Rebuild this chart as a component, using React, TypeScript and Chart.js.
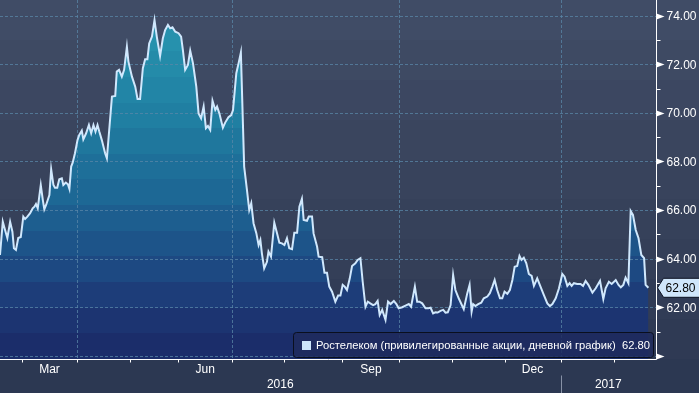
import React, { useEffect, useRef } from "react";
import { Chart, registerables } from "chart.js";
Chart.register(...registerables);

// Trading-session index (from chart start) and close prices
const sessions = [
  0, 1.1, 2.0, 2.9, 4.0, 4.9, 5.5, 6.3, 7.2, 8.2, 9.2, 9.9, 10.8, 11.9, 12.9, 13.6, 14.2, 14.9, 15.5, 16.1,
  16.9, 17.5, 18.2, 19.5, 20.2, 21.1, 21.7, 22.6, 23.4, 24.4, 25.0, 26.0, 26.8, 27.4, 28.1, 28.7, 29.6, 30.6, 31.3, 32.3,
  32.9, 34.0, 35.1, 36.0, 36.9, 37.7, 38.5, 39.2, 40.2, 41.5, 42.2, 44.2, 45.5, 46.1, 47.0, 48.1, 49.0, 50.1, 50.7, 52.1,
  53.4, 54.3, 55.3, 56.4, 57.3, 58.2, 58.9, 60.0, 61.0, 61.9, 63.2, 64.3, 65.2, 66.3, 67.2, 68.1, 69.2, 70.5, 71.5, 72.2,
  73.1, 74.2, 75.1, 76.2, 77.5, 78.4, 79.4, 80.4, 81.3, 82.1, 83.0, 83.9, 85.0, 85.7, 86.6, 88.0, 88.9, 90.2, 91.3, 92.0,
  93.3, 94.2, 95.1, 96.4, 97.5, 98.4, 99.2, 100.1, 101.2, 102.1, 102.8, 103.4, 104.3, 105.4, 106.0, 107.0, 108.3, 109.4, 110.3, 111.3,
  112.3, 113.3, 114.2, 115.3, 116.2, 117.3, 118.2, 119.2, 119.9, 121.2, 121.9, 123.2, 123.8, 125.2, 125.8, 127.2, 128.1, 129.1, 130.0, 131.1,
  132.4, 133.5, 134.4, 135.3, 136.1, 137.0, 138.1, 139.0, 140.3, 141.2, 142.3, 143.2, 144.3, 145.2, 146.2, 147.3, 148.2, 149.1, 149.9, 150.9,
  152.2, 153.2, 154.2, 155.5, 156.5, 157.4, 158.8, 160.1, 161.4, 162.3, 163.8, 164.7, 165.6, 166.7, 168.0, 169.1, 170.0, 171.0, 171.9, 172.8,
  173.9, 175.0, 175.9, 176.8, 177.9, 178.9, 179.8, 181.1, 183.1, 184.5, 185.4, 186.2, 186.8, 187.7, 188.8, 190.0, 191.0, 192.4, 193.4, 194.4,
  195.3, 196.3, 197.4, 198.3, 199.2, 200.3, 201.3, 202.3, 203.2, 204.2, 205.1, 205.9, 206.8, 207.8, 208.8, 209.9, 210.8, 212.1, 213.4, 214.7,
  216.1, 217.1, 218.1, 219.4, 220.7, 222.0, 222.9, 224.0, 224.9, 225.7, 226.6, 227.9, 229.2, 230.2, 231.2, 232.3, 233.9, 235.2, 236.9, 238.2,
  239.1, 240.4, 241.5, 243.1, 244.2, 245.1, 246.1, 247.0, 248.1, 249.0, 249.9, 251.0, 252.1, 253.2, 254.3, 254.9, 256.0,
];
const prices = [
  64.15, 65.52, 65.18, 64.85, 65.52, 65.11, 64.43, 64.36, 64.85, 64.89, 65.73, 65.63, 65.73, 65.87, 66.07, 66.14, 66.25, 66.07, 66.55, 67.03,
  66.42, 66.03, 66.21, 66.62, 67.68, 67.03, 66.92, 66.92, 67.27, 67.31, 67.03, 67.13, 67.06, 66.87, 67.79, 67.95, 68.34, 68.88, 69.09, 69.27,
  68.91, 69.16, 69.5, 69.16, 69.5, 69.23, 69.5, 69.23, 68.88, 68.34, 68.13, 70.67, 70.7, 71.7, 71.77, 71.49, 71.77, 72.72, 72.11, 71.49,
  71.08, 70.57, 70.57, 71.84, 72.21, 72.21, 72.86, 73.14, 73.82, 73.14, 72.34, 73.07, 73.41, 73.62, 73.48, 73.52, 73.34, 73.28, 73.14, 72.59,
  71.77, 71.97, 72.56, 72.04, 71.08, 69.98, 69.78, 70.26, 69.37, 69.46, 69.3, 70.5, 70.12, 70.26, 69.98, 69.39, 69.6, 69.82, 69.91, 70.12,
  71.63, 72.04, 72.48, 67.79, 66.83, 66.0, 66.28, 65.46, 65.05, 64.56, 64.77, 64.22, 63.6, 63.87, 64.29, 64.08, 65.48, 65.04, 64.66, 64.63,
  64.56, 64.84, 64.43, 64.39, 65.07, 65.07, 66.14, 66.46, 65.59, 65.56, 65.73, 65.73, 65.04, 64.49, 64.08, 64.06, 63.42, 63.42, 62.85, 62.64,
  62.23, 62.48, 62.48, 62.92, 62.85, 62.71, 63.19, 63.7, 63.81, 63.95, 64.02, 63.05, 62.02, 62.23, 62.16, 62.09, 62.13, 62.26, 61.68, 61.89,
  61.48, 62.23, 62.13, 62.26, 62.13, 61.96, 62.0, 62.07, 62.13, 62.02, 62.85, 62.23, 62.23, 62.16, 61.96, 61.96, 61.98, 61.75, 61.79, 61.78,
  61.85, 61.89, 61.78, 61.79, 62.09, 63.33, 62.71, 62.37, 61.92, 62.58, 62.92, 61.82, 62.13, 62.05, 62.13, 62.19, 62.37, 62.44, 62.58, 62.85,
  63.12, 62.71, 62.37, 62.37, 62.64, 62.55, 62.71, 63.12, 63.67, 63.7, 64.11, 63.95, 64.04, 63.81, 63.37, 63.29, 62.88, 63.19, 62.85, 62.51,
  62.16, 62.05, 62.13, 62.37, 62.78, 63.37, 63.26, 62.88, 62.99, 62.88, 62.99, 62.96, 62.96, 62.88, 63.08, 62.92, 62.6, 62.78, 63.09, 62.34,
  62.78, 63.05, 62.96, 63.12, 62.92, 62.82, 62.92, 63.22, 62.99, 65.96, 65.8, 65.18, 64.84, 64.15, 64.02, 62.92, 62.8,
];

const seriesName = "Ростелеком (привилегированные акции, дневной график)";
const lastPrice = 62.8;

const yMin = 59.87;
const yMax = 74.646;
const xMax = 259;

const yLabelValues = [62, 64, 66, 68, 70, 72, 74];
const yArrowValues = [60, 62, 64, 66, 68, 70, 72, 74];
const yMinorValues = [61, 63, 65, 67, 69, 71, 73];

// month boundaries (session index): Mar1 .. Feb1
const monthBoundaries = [8.7, 30.4, 51.4, 70.4, 91.7, 112.3, 135.2, 157.7, 178.3, 199.2, 221.3, 242.3];
const quarterLines = [30.4, 91.7, 157.7, 221.3];
const monthNames = ["Mar", "Jun", "Sep", "Dec"];
const monthStarts = [8.7, 70.4, 135.2, 199.2];
const monthEnds = [30.4, 91.7, 157.7, 221.3];
const yearNames = ["2016", "2017"];
const yearStarts = [0, 221.3];
const yearEnds = [221.3, 259];

type Stop = [number, string];

function hexToRgb(h: string) {
  const n = parseInt(h.slice(1), 16);
  return [(n >> 16) & 255, (n >> 8) & 255, n & 255];
}
function sample(stops: Stop[], t: number) {
  for (let i = 0; i < stops.length - 1; i++) {
    const [a, ca] = stops[i];
    const [b, cb] = stops[i + 1];
    if (t <= b || i === stops.length - 2) {
      const k = Math.max(0, Math.min(1, (t - a) / (b - a)));
      const x = hexToRgb(ca);
      const y = hexToRgb(cb);
      const c = x.map((v, j) => Math.round(v + (y[j] - v) * k));
      return `rgb(${c[0]},${c[1]},${c[2]})`;
    }
  }
  return stops[stops.length - 1][1];
}
function banded(ctx: CanvasRenderingContext2D, y0: number, y1: number, stops: Stop[], bandPx: number) {
  const g = ctx.createLinearGradient(0, y0, 0, y1);
  const n = Math.max(1, Math.round((y1 - y0) / bandPx));
  for (let i = 0; i < n; i++) {
    const a = i / n;
    const b = (i + 1) / n;
    const c = sample(stops, (a + b) / 2);
    g.addColorStop(a, c);
    g.addColorStop(b, c);
  }
  return g;
}

const bgStops: Stop[] = [
  [0, "#414d67"],
  [0.5, "#38435c"],
  [1, "#2e3953"],
];
const fillStops: Stop[] = [
  [0, "#2a9ab2"],
  [0.3, "#2081a3"],
  [0.55, "#1d6694"],
  [0.72, "#1d4e86"],
  [0.85, "#1d3875"],
  [1, "#1b2a66"],
];

const FONT = "12px 'Liberation Sans', Arial, sans-serif";

export default function App() {
  const ref = useRef<HTMLCanvasElement>(null);
  useEffect(() => {
    const canvas = ref.current!;
    const decor = {
      id: "decor",
      beforeDraw(chart: any) {
        const { ctx, chartArea } = chart;
        ctx.save();
        ctx.fillStyle = banded(ctx, 0, chartArea.bottom, bgStops, 40);
        ctx.fillRect(0, 0, chart.width, chartArea.bottom);
        ctx.fillStyle = "#2c3852";
        ctx.fillRect(0, chartArea.bottom, chart.width, chart.height - chartArea.bottom);
        ctx.restore();
      },
      beforeDatasetDraw(chart: any) {
        const { ctx, chartArea, scales } = chart;
        const x = scales.x;
        const y = scales.y;
        ctx.save();
        ctx.beginPath();
        ctx.rect(chartArea.left, chartArea.top, chartArea.right - chartArea.left, chartArea.bottom - chartArea.top);
        ctx.clip();
        ctx.strokeStyle = "rgba(90,135,168,0.75)";
        ctx.lineWidth = 1;
        ctx.setLineDash([3, 2]);
        for (const v of yArrowValues) {
          const py = Math.round(y.getPixelForValue(v)) + 0.5;
          ctx.beginPath();
          ctx.moveTo(chartArea.left, py);
          ctx.lineTo(chartArea.right, py);
          ctx.stroke();
        }
        for (const q of quarterLines) {
          const px = Math.round(x.getPixelForValue(q)) + 0.5;
          ctx.beginPath();
          ctx.moveTo(px, chartArea.top);
          ctx.lineTo(px, chartArea.bottom);
          ctx.stroke();
        }
        ctx.restore();
      },
      afterDraw(chart: any) {
        const { ctx, chartArea, scales } = chart;
        const x = scales.x;
        const y = scales.y;
        const ax = Math.round(chartArea.right) + 0.5;
        const ay = Math.round(chartArea.bottom) + 0.5;
        ctx.save();
        ctx.strokeStyle = "#ffffff";
        ctx.fillStyle = "#ffffff";
        ctx.lineWidth = 1;
        // axes
        ctx.beginPath();
        ctx.moveTo(0, ay);
        ctx.lineTo(ax, ay);
        ctx.moveTo(ax, 0);
        ctx.lineTo(ax, ay);
        ctx.stroke();
        // month ticks
        ctx.beginPath();
        for (const m of monthBoundaries) {
          const px = Math.round(x.getPixelForValue(m)) + 0.5;
          ctx.moveTo(px, ay);
          ctx.lineTo(px, ay + 3);
        }
        // y minor ticks
        for (const v of yMinorValues) {
          const py = Math.round(y.getPixelForValue(v)) + 0.5;
          ctx.moveTo(ax, py);
          ctx.lineTo(ax + 4, py);
        }
        ctx.stroke();
        // y arrows and labels
        ctx.font = FONT;
        ctx.textBaseline = "middle";
        ctx.textAlign = "left";
        for (const v of yArrowValues) {
          const py = Math.round(y.getPixelForValue(v)) + 0.5;
          ctx.beginPath();
          ctx.moveTo(ax, py - 3);
          ctx.lineTo(ax + 8, py);
          ctx.lineTo(ax, py + 3);
          ctx.closePath();
          ctx.fill();
        }
        for (const v of yLabelValues) {
          const py = y.getPixelForValue(v);
          ctx.fillText(v.toFixed(2), ax + 10, py + 1);
        }
        // month labels
        ctx.textAlign = "center";
        monthNames.forEach((n, i) => {
          const px = (x.getPixelForValue(monthStarts[i]) + x.getPixelForValue(monthEnds[i])) / 2;
          ctx.fillText(n, px, ay + 10);
        });
        yearNames.forEach((n, i) => {
          const l = x.getPixelForValue(yearStarts[i]);
          const r = Math.min(x.getPixelForValue(yearEnds[i]), chartArea.right);
          ctx.fillText(n, (l + r) / 2, ay + 25);
        });
        // year separator
        ctx.strokeStyle = "#8791a6";
        ctx.beginPath();
        const sx = Math.round(x.getPixelForValue(yearStarts[1])) + 0.5;
        ctx.moveTo(sx, ay + 16);
        ctx.lineTo(sx, chart.height);
        ctx.stroke();
        // last value tag
        const ly = y.getPixelForValue(lastPrice);
        ctx.beginPath();
        ctx.moveTo(ax + 1, ly);
        ctx.lineTo(ax + 7, ly - 9.5);
        ctx.lineTo(chart.width + 2, ly - 9.5);
        ctx.lineTo(chart.width + 2, ly + 9.5);
        ctx.lineTo(ax + 7, ly + 9.5);
        ctx.closePath();
        ctx.fillStyle = "#cfe6fb";
        ctx.fill();
        ctx.strokeStyle = "#0c1222";
        ctx.stroke();
        ctx.fillStyle = "#000000";
        ctx.textAlign = "left";
        ctx.fillText(lastPrice.toFixed(2), ax + 9, ly + 1);
        // legend
        const lx = 293.5, lyTop = 332.5, lw = 360, lh = 25;
        ctx.beginPath();
        ctx.roundRect(lx, lyTop, lw, lh, 3);
        ctx.fillStyle = "rgba(30,43,93,0.85)";
        ctx.fill();
        ctx.strokeStyle = "#0a0f1e";
        ctx.stroke();
        ctx.fillStyle = "#cde5fb";
        ctx.fillRect(302, 341, 9, 9);
        ctx.fillStyle = "#ffffff";
        ctx.font = "11.2px 'Liberation Sans', Arial, sans-serif";
        ctx.fillText(seriesName, 316, 346);
        ctx.fillText(lastPrice.toFixed(2), 622, 346);
        ctx.restore();
      },
    };
    const chart = new Chart(canvas, {
      type: "line",
      data: {
        datasets: [
          {
            label: seriesName,
            data: sessions.map((s, i) => ({ x: s, y: prices[i] })),
            borderColor: "#d0e8fd",
            borderWidth: 2,
            pointRadius: 0,
            tension: 0,
            fill: "start",
            backgroundColor: (c: any) => {
              const area = c.chart.chartArea;
              if (!area) return "#1f6090";
              return banded(c.chart.ctx, area.top, area.bottom, fillStops, 26);
            },
          },
        ],
      },
      options: {
        animation: false,
        responsive: false,
        devicePixelRatio: 1,
        layout: { padding: { left: 0, top: 0, right: 43, bottom: 34 } },
        plugins: { legend: { display: false }, tooltip: { enabled: false } },
        scales: {
          x: { type: "linear", min: 0, max: xMax, display: false },
          y: { type: "linear", min: yMin, max: yMax, display: false },
        },
      },
      plugins: [decor],
    });
    return () => chart.destroy();
  }, []);
  return (
    <div style={{ position: "fixed", left: 0, top: 0, width: 699, height: 393 }}>
      <canvas ref={ref} width={699} height={393} style={{ display: "block" }} />
    </div>
  );
}
